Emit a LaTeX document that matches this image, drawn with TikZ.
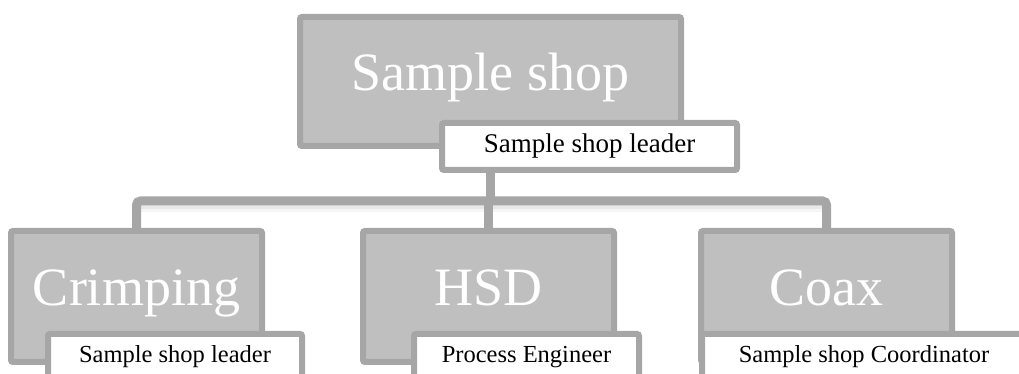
\documentclass[tikz,border=0pt]{standalone}
\usepackage{fontspec}
\setmainfont{Liberation Serif}
\usetikzlibrary{backgrounds}
\definecolor{boxfill}{HTML}{BFBFBF}
\definecolor{boxline}{HTML}{A6A6A6}

\begin{document}
\begin{tikzpicture}[x=1pt,y=1pt,
    unit/.style={draw=boxline,fill=boxfill,line width=6pt,rounded corners=2pt,
      text=white,font=\fontsize{54}{60}\selectfont,text height=36pt,text depth=17pt,
      minimum width=251pt,minimum height=131pt},
    role/.style={draw=boxline,fill=white,line width=6pt,rounded corners=2pt,
      minimum height=46pt,font=\fontsize{24.5}{28}\selectfont},
    link/.style={draw=boxline,line width=9pt,rounded corners=4pt},
    linkshadow/.style={draw=black!#1,line width=8pt}]
  \path[use as bounding box,clip](0,0)rectangle(1019,374);
  % head of the shop
  \node[unit,minimum width=381pt,minimum height=129pt](shop)at(490.5,292.5){Sample shop};
  \node[role,minimum width=295pt,minimum height=47pt,font=\fontsize{27}{30}\selectfont]
    (shoplead)at(589.5,227.5){Sample shop leader};
  % the three lines
  \node[unit](crimp)at(136.5,77.5){Crimping};
  \node[role,minimum width=254pt](crimplead)at(175,17){Sample shop leader};
  \node[unit](hsd)at(488.5,77.5){HSD};
  \node[role,minimum width=225pt](hsdlead)at(526.5,17){Process Engineer};
  \node[unit](coax)at(826.5,77.5){Coax};
  \node[role,minimum width=324pt](coaxlead)at(864,17){Sample shop Coordinator};
  \coordinate(bus)at(0,173);
  \begin{scope}[on background layer]
    \draw[linkshadow=4]([yshift=-7pt]crimp.north|-bus)--([yshift=-7pt]coax.north|-bus);
    \draw[linkshadow=9]([yshift=-4pt]crimp.north|-bus)--([yshift=-4pt]coax.north|-bus);
    \draw[link](shop.south|-shoplead.south)--(shop.south|-bus);
    \draw[link](crimp.north)|-(coax.north|-bus)--(coax.north);
    \draw[link](hsd.north)--(hsd.north|-bus);
  \end{scope}
\end{tikzpicture}
\end{document}
